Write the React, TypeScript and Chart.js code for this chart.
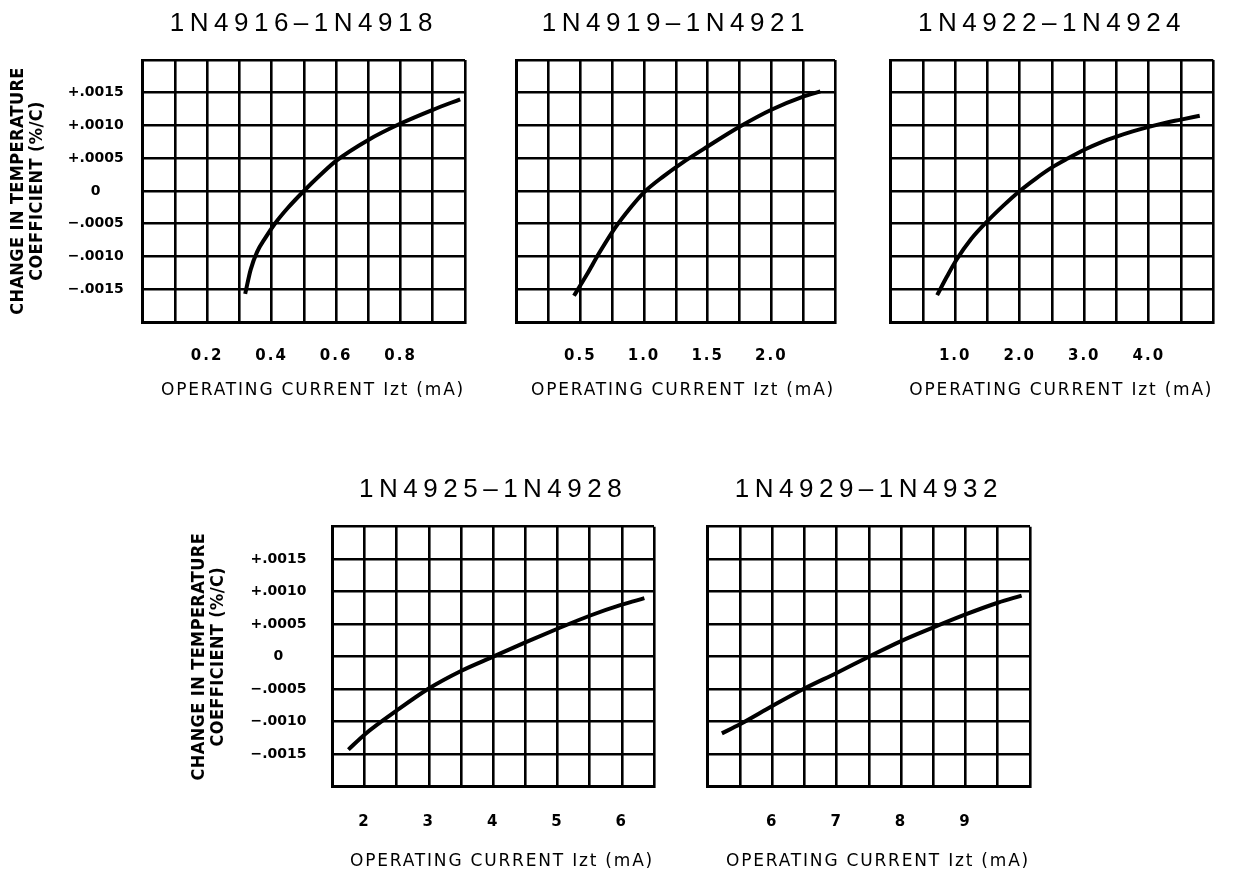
import React, { useEffect, useRef } from 'react';
import { Chart, registerables, LinearScale } from 'chart.js';

// ---------------- data ----------------
const panelTitles = ['1N4916–1N4918', '1N4919–1N4921', '1N4922–1N4924', '1N4925–1N4928', '1N4929–1N4932'];
const xAxisTitle = 'OPERATING CURRENT Izt (mA)';
const yAxisTitle = ['CHANGE IN TEMPERATURE', 'COEFFICIENT (%/C)'];

const yTickValues = [0.0015, 0.001, 0.0005, 0, -0.0005, -0.001, -0.0015];
const yTickLabels = ['+.0015', '+.0010', '+.0005', '0', '−.0005', '−.0010', '−.0015'];
const yRange = [-0.002, 0.002, 0.0005];

const x1Range = [0, 1.0, 0.1];
const x1TickValues = [0.2, 0.4, 0.6, 0.8];
const x1TickLabels = ['0.2', '0.4', '0.6', '0.8'];
const c1X = [0.318, 0.335, 0.355, 0.38, 0.41, 0.45, 0.5, 0.55, 0.6, 0.7, 0.8, 0.9, 0.985];
const c1Y = [-0.00157, -0.0012, -0.00093, -0.00072, -0.0005, -0.00026, 0, 0.00024, 0.00046, 0.00078, 0.00103, 0.00124, 0.0014];

const x2Range = [0, 2.5, 0.25];
const x2TickValues = [0.5, 1.0, 1.5, 2.0];
const x2TickLabels = ['0.5', '1.0', '1.5', '2.0'];
const c2X = [0.45, 0.55, 0.65, 0.77, 0.9, 1.0, 1.15, 1.3, 1.5, 1.75, 2.0, 2.25, 2.385];
const c2Y = [-0.0016, -0.00128, -0.00094, -0.00057, -0.00024, -0.00002, 0.00022, 0.00043, 0.00068, 0.00098, 0.00124, 0.00144, 0.00152];

const x3Range = [0, 5.0, 0.5];
const x3TickValues = [1, 2, 3, 4];
const x3TickLabels = ['1.0', '2.0', '3.0', '4.0'];
const c3X = [0.72, 0.87, 1.02, 1.25, 1.5, 1.75, 2.0, 2.25, 2.5, 2.75, 3.0, 3.25, 3.5, 3.75, 4.0, 4.25, 4.5, 4.79];
const c3Y = [-0.00159, -0.00131, -0.00105, -0.00073, -0.00046, -0.00022, 0, 0.00019, 0.00036, 0.0005, 0.00063, 0.00074, 0.00083, 0.00091, 0.00098, 0.00104, 0.00109, 0.00115];

const x4Range = [1.5, 6.5, 0.5];
const x4TickValues = [2, 3, 4, 5, 6];
const x4TickLabels = ['2', '3', '4', '5', '6'];
const c4X = [1.75, 2.0, 2.5, 3.0, 3.5, 4.0, 4.5, 5.0, 5.5, 6.0, 6.35];
const c4Y = [-0.00143, -0.0012, -0.00083, -0.00049, -0.00022, 0, 0.00022, 0.00043, 0.00063, 0.0008, 0.0009];

const x5Range = [5, 10, 0.5];
const x5TickValues = [6, 7, 8, 9];
const x5TickLabels = ['6', '7', '8', '9'];
const c5X = [5.22, 5.5, 6.0, 6.5, 7.0, 7.5, 8.0, 8.5, 9.0, 9.5, 9.87];
const c5Y = [-0.00118, -0.00104, -0.00076, -0.00049, -0.00025, 0, 0.00024, 0.00045, 0.00065, 0.00083, 0.00094];

// ---------------- custom scale with letter spacing ----------------
class SpacedLinearScale extends (LinearScale as any) {
  static id = 'spacedLinear';
  static defaults = (LinearScale as any).defaults;
  drawLabels(area: any) {
    const ctx = (this as any).ctx;
    ctx.save();
    ctx.letterSpacing = (this as any).options.tickSpacing || '0px';
    super.drawLabels(area);
    ctx.restore();
  }
  drawTitle() {
    const ctx = (this as any).ctx;
    ctx.save();
    ctx.letterSpacing = (this as any).options.titleSpacing || '0px';
    super.drawTitle();
    ctx.restore();
  }
}

Chart.register(...registerables, SpacedLinearScale as any);

const titleSpacingPlugin = {
  id: 'titleSpacing',
  beforeDraw(chart: any) {
    chart.ctx.letterSpacing = '5.5px';
  },
  beforeDatasetsDraw(chart: any) {
    chart.ctx.letterSpacing = '0px';
  },
};

// ---------------- layout (styles) ----------------
type PanelCfg = {
  title: string;
  xs: number[];
  ys: number[];
  xRange: number[];
  xTickValues: number[];
  xTickLabels: string[];
  left: number; top: number; w: number; h: number;
  pl: number; pr: number; pt: number; pb: number;
  showY: boolean;
  yTitlePad: number;
  yTickPad: number;
  titlePadTop: number;
  xTickPad: number;
  xTitlePadBottom: number;
};

const panels: PanelCfg[] = [
  { title: panelTitles[0], xs: c1X, ys: c1Y, xRange: x1Range, xTickValues: x1TickValues, xTickLabels: x1TickLabels,
    left: 0, top: 0, w: 490, h: 420, pl: 142.7, pr: 470, pt: 60, pb: 322,
    showY: true, yTitlePad: 9, yTickPad: 19, titlePadTop: 3.7, xTickPad: 25, xTitlePadBottom: 19 },
  { title: panelTitles[1], xs: c2X, ys: c2Y, xRange: x2Range, xTickValues: x2TickValues, xTickLabels: x2TickLabels,
    left: 490, top: 0, w: 370, h: 420, pl: 516.7, pr: 841.7, pt: 60, pb: 322,
    showY: false, yTitlePad: 0, yTickPad: 0, titlePadTop: 3.7, xTickPad: 25, xTitlePadBottom: 19 },
  { title: panelTitles[2], xs: c3X, ys: c3Y, xRange: x3Range, xTickValues: x3TickValues, xTickLabels: x3TickLabels,
    left: 860, top: 0, w: 380, h: 420, pl: 890.7, pr: 1213.3, pt: 60, pb: 322,
    showY: false, yTitlePad: 0, yTickPad: 0, titlePadTop: 3.7, xTickPad: 25, xTitlePadBottom: 19 },
  { title: panelTitles[3], xs: c4X, ys: c4Y, xRange: x4Range, xTickValues: x4TickValues, xTickLabels: x4TickLabels,
    left: 150, top: 440, w: 530, h: 434, pl: 332.3, pr: 660, pt: 526.7, pb: 786.7,
    showY: true, yTitlePad: 40, yTickPad: 25.8, titlePadTop: 29.8, xTickPad: 26, xTitlePadBottom: 2.5 },
  { title: panelTitles[4], xs: c5X, ys: c5Y, xRange: x5Range, xTickValues: x5TickValues, xTickLabels: x5TickLabels,
    left: 680, top: 440, w: 400, h: 434, pl: 707.7, pr: 1030, pt: 526.7, pb: 786.7,
    showY: false, yTitlePad: 0, yTickPad: 0, titlePadTop: 29.8, xTickPad: 26, xTitlePadBottom: 2.5 },
];

const TITLE_LH = 40;

function labelFor(values: number[], labels: string[], v: number): string {
  for (let i = 0; i < values.length; i++) {
    if (Math.abs(values[i] - v) < 1e-9) return labels[i];
  }
  return '';
}

function Panel({ cfg }: { cfg: PanelCfg }) {
  const ref = useRef<HTMLCanvasElement>(null);
  useEffect(() => {
    const canvas = ref.current!;
    const yScaleWidth = cfg.pl - cfg.left;
    const xScaleHeight = cfg.top + cfg.h - cfg.pb;
    const titleTotal = cfg.pt - cfg.top;
    const chart = new Chart(canvas, {
      type: 'line',
      data: {
        datasets: [
          {
            data: cfg.xs.map((x, i) => ({ x, y: cfg.ys[i] })),
            borderColor: '#000',
            backgroundColor: '#000',
            borderWidth: 4,
            pointRadius: 0,
            pointHoverRadius: 0,
            fill: false,
            cubicInterpolationMode: 'monotone',
            borderCapStyle: 'butt',
          } as any,
        ],
      },
      options: {
        responsive: false,
        animation: false,
        devicePixelRatio: 1,
        events: [],
        layout: {
          padding: { left: 0, top: 0, bottom: 0, right: cfg.left + cfg.w - cfg.pr },
        },
        plugins: {
          legend: { display: false },
          tooltip: { enabled: false },
          title: {
            display: true,
            text: cfg.title,
            fullSize: false,
            color: '#000',
            font: { family: 'Liberation Sans', size: 26, weight: 'normal', lineHeight: TITLE_LH + 'px' } as any,
            padding: { top: cfg.titlePadTop, bottom: titleTotal - cfg.titlePadTop - TITLE_LH },
          },
        },
        scales: {
          x: {
            type: 'spacedLinear' as any,
            min: cfg.xRange[0],
            max: cfg.xRange[1],
            tickSpacing: '2px',
            titleSpacing: '1.8px',
            ticks: {
              stepSize: cfg.xRange[2],
              autoSkip: false,
              maxRotation: 0,
              minRotation: 0,
              padding: cfg.xTickPad,
              color: '#000',
              font: { family: 'DejaVu Sans', size: 15, weight: 'bold', lineHeight: '18px' } as any,
              callback: (v: any) => labelFor(cfg.xTickValues, cfg.xTickLabels, Number(v)),
            },
            grid: { color: '#000', lineWidth: 2.6, drawTicks: false },
            border: { color: '#000', width: 3 },
            title: {
              display: true,
              text: xAxisTitle,
              align: 'end',
              color: '#000',
              font: { family: 'DejaVu Sans', size: 17, weight: 'normal', lineHeight: '20px' } as any,
              padding: { top: 0, bottom: cfg.xTitlePadBottom },
            },
            afterFit: (s: any) => {
              s.height = xScaleHeight;
            },
          } as any,
          y: {
            type: 'spacedLinear' as any,
            min: yRange[0],
            max: yRange[1],
            tickSpacing: '0px',
            titleSpacing: '0.4px',
            ticks: {
              display: cfg.showY,
              stepSize: yRange[2],
              autoSkip: false,
              crossAlign: 'center',
              padding: cfg.yTickPad,
              color: '#000',
              font: { family: 'DejaVu Sans', size: 14, weight: 'bold', lineHeight: '17px' } as any,
              callback: (v: any) => labelFor(yTickValues, yTickLabels, Number(v)),
            },
            grid: { color: '#000', lineWidth: 2.6, drawTicks: false },
            border: { color: '#000', width: 3 },
            title: {
              display: cfg.showY,
              text: yAxisTitle,
              align: 'center',
              color: '#000',
              font: {
                family: "'DejaVu Sans Condensed', 'DejaVu Sans', sans-serif",
                size: 18,
                weight: 'bold',
                lineHeight: '19px',
              } as any,
              padding: { top: cfg.yTitlePad, bottom: 0 },
            },
            afterFit: (s: any) => {
              s.width = yScaleWidth;
            },
          } as any,
        },
      } as any,
      plugins: [titleSpacingPlugin as any],
    });
    return () => chart.destroy();
  }, [cfg]);
  return (
    <canvas
      ref={ref}
      width={cfg.w}
      height={cfg.h}
      style={{ position: 'absolute', left: cfg.left, top: cfg.top, width: cfg.w, height: cfg.h }}
    />
  );
}

export default function App() {
  return (
    <div
      style={{
        position: 'absolute',
        left: 0,
        top: 0,
        width: 1240,
        height: 874,
        overflow: 'hidden',
        background: '#fff',
      }}
    >
      {panels.map((p, i) => (
        <Panel key={i} cfg={p} />
      ))}
    </div>
  );
}
